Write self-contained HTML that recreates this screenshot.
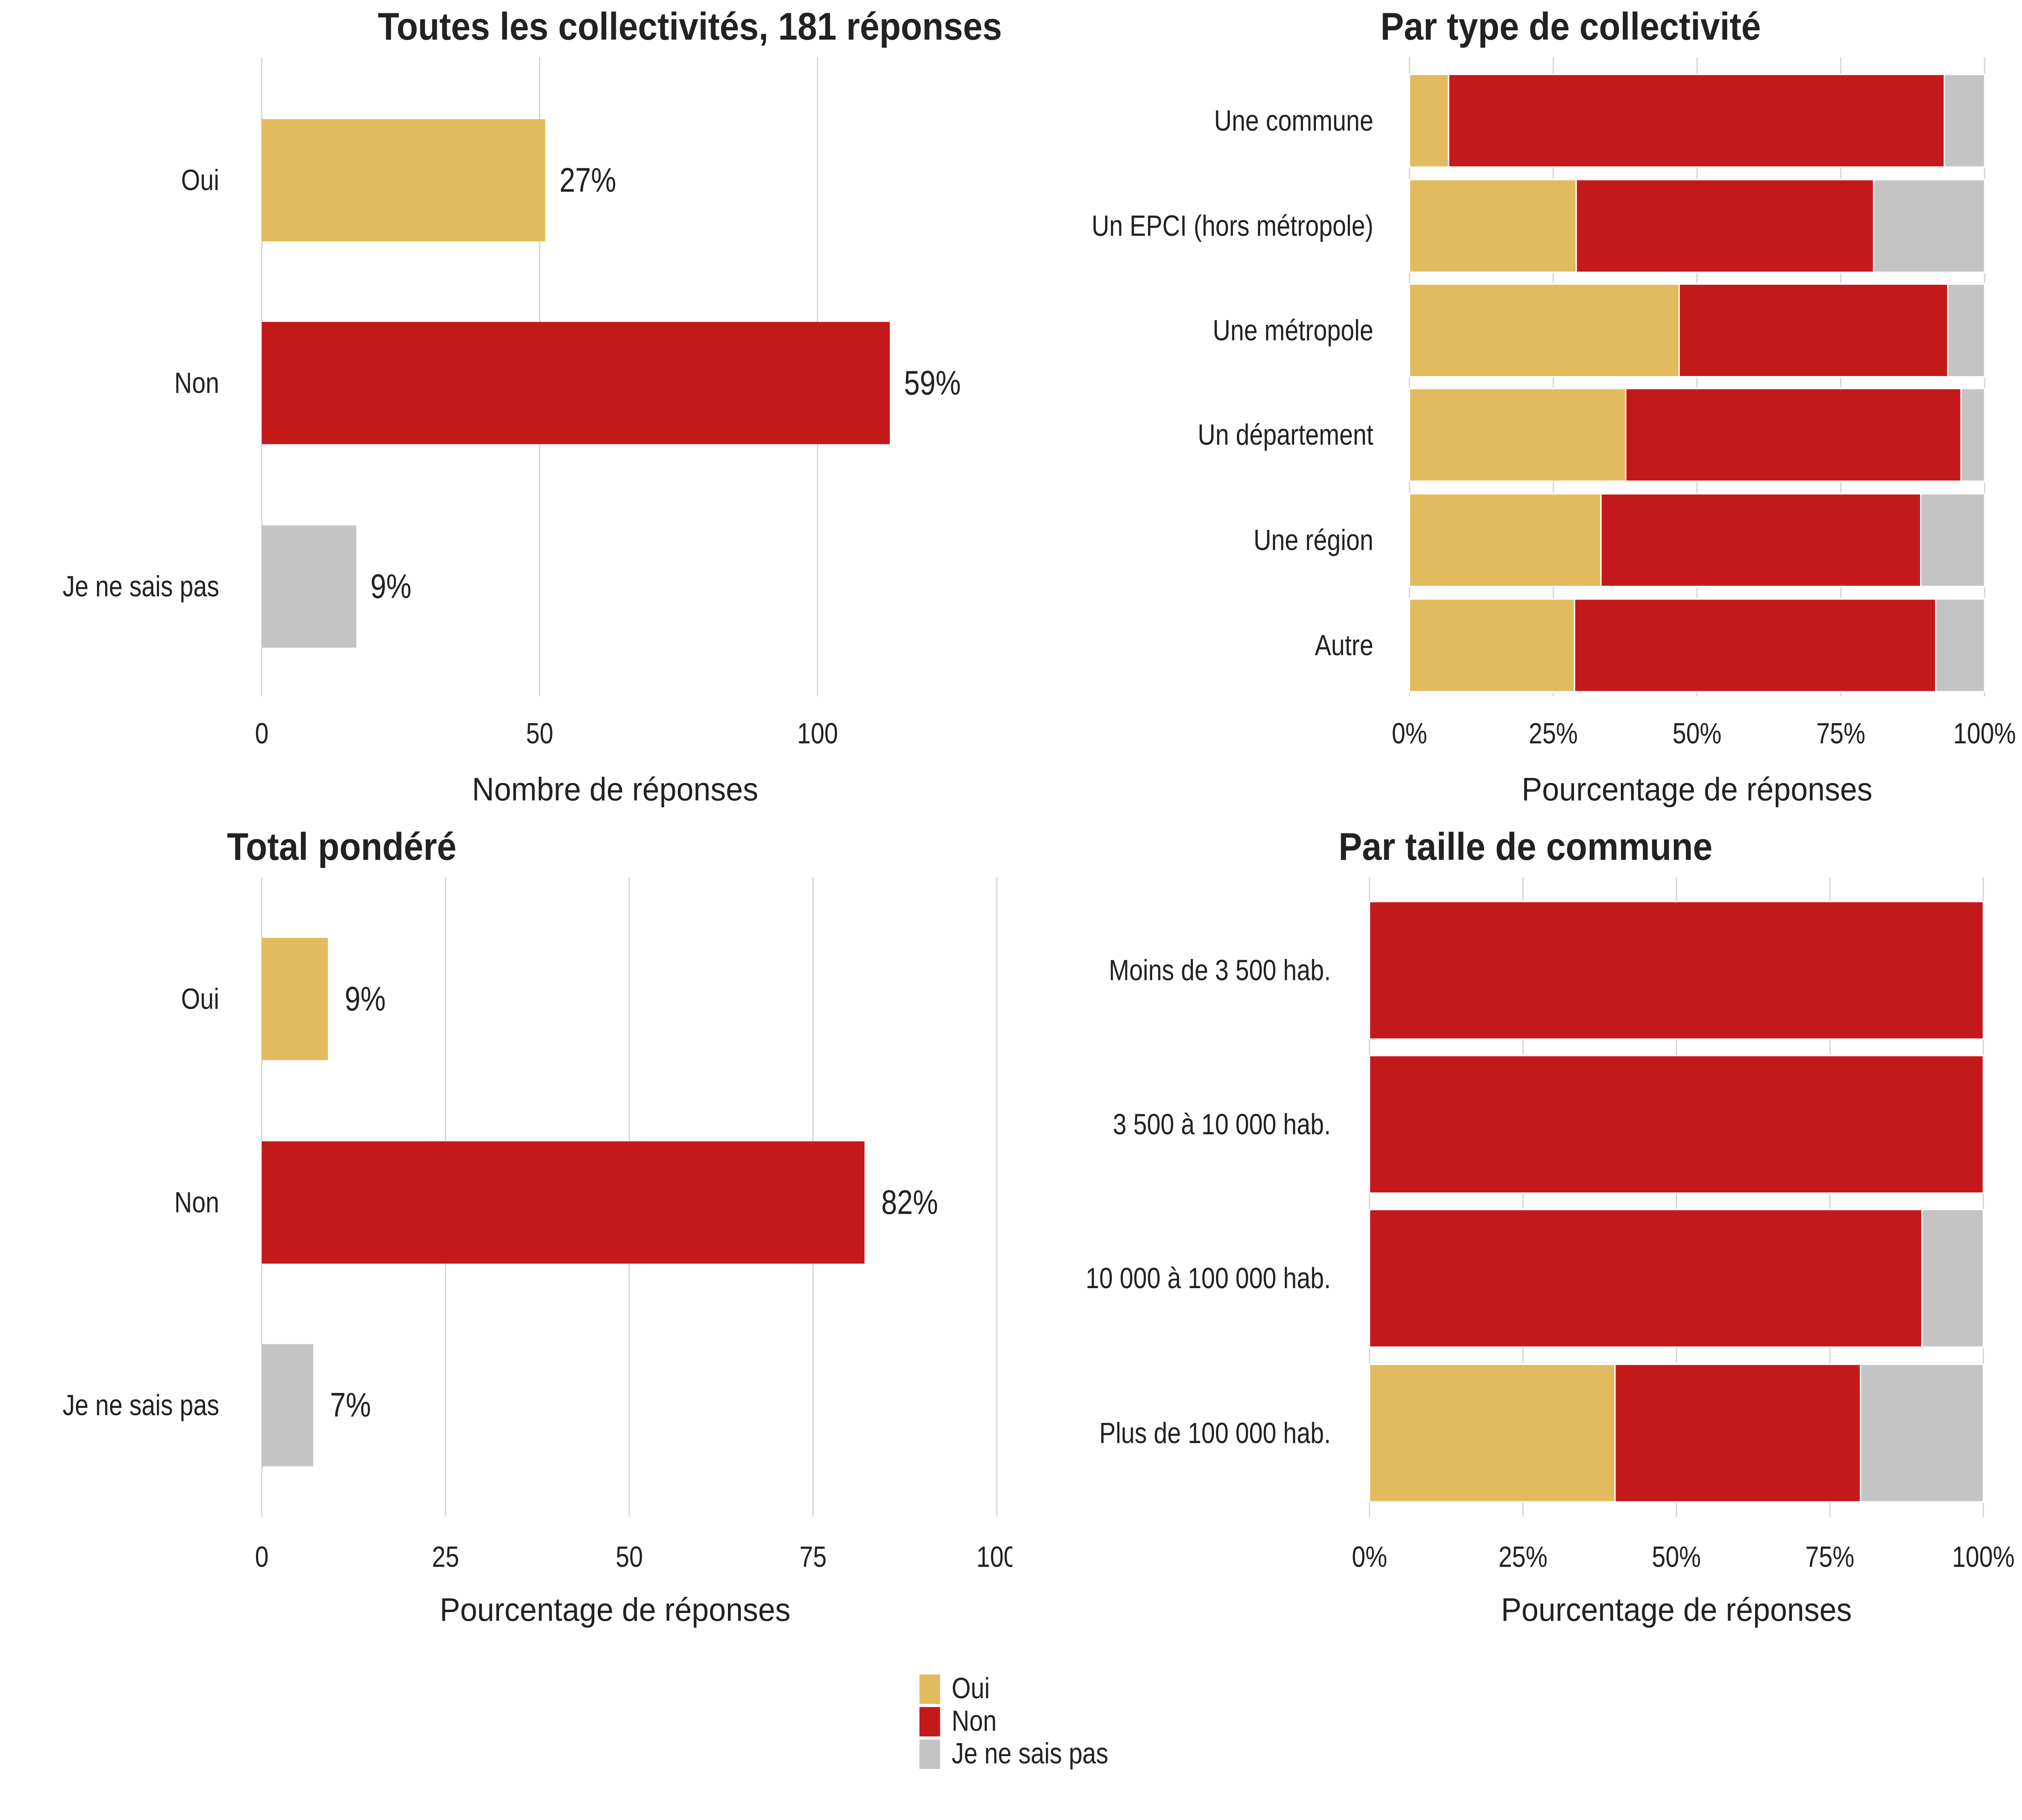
<!DOCTYPE html>
<html><head><meta charset="utf-8"><style>
html,body{margin:0;padding:0;background:#fff;width:100vw;height:100vh;overflow:hidden}
svg{display:block;position:absolute;left:0;top:0;width:100vw;height:100vh}
text{font-family:"Liberation Sans",sans-serif;fill:#222}
</style></head><body>
<svg id="chart" viewBox="0 0 1568 1176" preserveAspectRatio="none" xmlns="http://www.w3.org/2000/svg"></svg>
<script>
// ---- Data ----
const answers = ["Oui","Non","Je ne sais pas"];
const colors = ["#E2BB5F","#C4191B","#C4C4C4"];
// Panel 1: counts
const p1Counts = [51, 113, 17];
const p1Labels = ["27%","59%","9%"];
const p1Ticks = [0, 50, 100];
// Panel 2: percent by type
const p2Cats = ["Une commune","Un EPCI (hors métropole)","Une métropole","Un département","Une région","Autre"];
const p2Oui = [6.8, 29.0, 46.9, 37.6, 33.3, 28.7];
const p2Non = [86.2, 51.7, 46.7, 58.3, 55.6, 62.8];
const p2Nsp = [7.0, 19.3, 6.4, 4.1, 11.1, 8.5];
const pctTicks = [0, 25, 50, 75, 100];
const pctTickLabels = ["0%","25%","50%","75%","100%"];
// Panel 3: weighted total
const p3Vals = [9, 82, 7];
const p3Labels = ["9%","82%","7%"];
const p3TickLabels = ["0","25","50","75","100"];
// Panel 4: by commune size
const p4Cats = ["Moins de 3 500 hab.","3 500 à 10 000 hab.","10 000 à 100 000 hab.","Plus de 100 000 hab."];
const p4Oui = [0, 0, 0, 40];
const p4Non = [100, 100, 90, 40];
const p4Nsp = [0, 0, 10, 20];

const svg = document.getElementById('chart');
const NS = "http://www.w3.org/2000/svg";
function mk(tag, attrs, parent){
  const e = document.createElementNS(NS, tag);
  for (const k in attrs) e.setAttribute(k, attrs[k]);
  (parent||svg).appendChild(e);
  return e;
}
function txt(s, x, y, size, anchor, parent, bold, len){
  const t = mk('text', {x:x, y:y, 'font-size':size, 'text-anchor':anchor, 'dominant-baseline':'central'}, parent);
  if (bold) t.setAttribute('font-weight','bold');
  if (len) { t.setAttribute('textLength', len); t.setAttribute('lengthAdjust','spacingAndGlyphs'); }
  t.textContent = s;
  return t;
}
function grid(g, xs, y0, y1){
  xs.forEach(x => {
    const l = mk('line', {x1:x, x2:x, y1:y0, y2:y1, stroke:'#d4d4d4', 'stroke-width':1}, g);
    
    
  });
}

// ---- Panel 1 ----
(function(){
  const g = mk('g', {});
  
  
  const X = v => 203 + v * (634 - 203) / 100;
  const rowY = [116.5, 247.5, 379];
  const bh = 79;
  grid(g, p1Ticks.map(X), 37, 450);
  p1Counts.forEach((v, i) => {
    const r = mk('rect', {x:X(0), y:rowY[i]-bh/2, width:X(v)-X(0), height:bh, fill:colors[i]}, g);
    
    
    const l = txt(p1Labels[i], X(v)+11, rowY[i], 22, 'start', g);
    
    
    const c = txt(answers[i], 170, rowY[i], 19, 'end', g);
    
    
  });
  p1Ticks.forEach(t => {
    const e = txt(String(t), X(t), 474, 19, 'middle', g);
    
    
  });
  const at = txt("Nombre de réponses", 477, 510, 21, 'middle', g, false, 222);
  
  
  const tt = txt("Toutes les collectivités, 181 réponses", 535, 17, 25, 'middle', g, true, 484);
  
  
})();

// ---- Stacked panels ----
function stacked(name, cats, oui, non, nsp, x0, x1, rows, bh, labelX, gy0, gy1, tickY, title, titleX, titleY, titleLen, axisX, axisY){
  const g = mk('g', {});
  
  
  const X = v => x0 + v * (x1 - x0) / 100;
  grid(g, pctTicks.map(X), gy0, gy1);
  cats.forEach((c, i) => {
    const segs = [oui[i], non[i], nsp[i]];
    let acc = 0;
    segs.forEach((v, j) => {
      if (v > 0) {
        const r = mk('rect', {x:X(acc), y:rows[i]-bh/2, width:X(acc+v)-X(acc), height:bh, fill:colors[j], stroke:'#fff', 'stroke-width':1}, g);
        
        
      }
      acc += v;
    });
    const l = txt(c, labelX, rows[i], 19, 'end', g);
    
    
  });
  pctTicks.forEach((t, k) => {
    const e = txt(pctTickLabels[k], X(t), tickY, 19, 'middle', g);
    
    
  });
  const at = txt("Pourcentage de réponses", axisX, axisY, 21, 'middle', g, false, 272);
  
  
  const tt = txt(title, titleX, titleY, 25, 'middle', g, true, titleLen);
  
  
}
stacked('panel-by-type', p2Cats, p2Oui, p2Non, p2Nsp, 1093, 1539,
  [78, 146, 213.5, 281, 349, 417], 60, 1065, 37, 450, 474,
  "Par type de collectivité", 1218, 17, 295, 1316, 510);
stacked('panel-by-size', p4Cats, p4Oui, p4Non, p4Nsp, 1062, 1538,
  [627, 726.5, 826, 926], 89, 1032, 567, 980, 1006,
  "Par taille de commune", 1183, 547, 290, 1300, 1040);

// ---- Panel 3 ----
(function(){
  const g = mk('g', {});
  
  
  const X = v => 203 + v * (773 - 203) / 100;
  const rowY = [645.5, 777, 908];
  const bh = 79;
  grid(g, pctTicks.map(X), 567, 980);
  p3Vals.forEach((v, i) => {
    const r = mk('rect', {x:X(0), y:rowY[i]-bh/2, width:X(v)-X(0), height:bh, fill:colors[i]}, g);
    
    
    const l = txt(p3Labels[i], X(v)+13, rowY[i], 22, 'start', g);
    
    
    const c = txt(answers[i], 170, rowY[i], 19, 'end', g);
    
    
  });
  const clip = mk('clipPath', {id:'c3'});
  mk('rect', {x:0, y:990, width:785, height:40}, clip);
  const tg = mk('g', {'clip-path':'url(#c3)'}, g);
  pctTicks.forEach((t, k) => {
    const e = txt(p3TickLabels[k], X(t), 1006, 19, 'middle', tg);
    
    
  });
  const at = txt("Pourcentage de réponses", 477, 1040, 21, 'middle', g, false, 272);
  
  
  const tt = txt("Total pondéré", 176, 547, 25, 'start', g, true, 178);
  
  
})();

// ---- Legend ----
(function(){
  const g = mk('g', {});
  
  
  const ys = [1091, 1112, 1133];
  answers.forEach((a, i) => {
    const r = mk('rect', {x:713, y:ys[i]-9, width:16, height:19, fill:colors[i]}, g);
    
    
    const t = txt(a, 738, ys[i], 19, 'start', g);
    
    
  });
})();
</script>
</body></html>
